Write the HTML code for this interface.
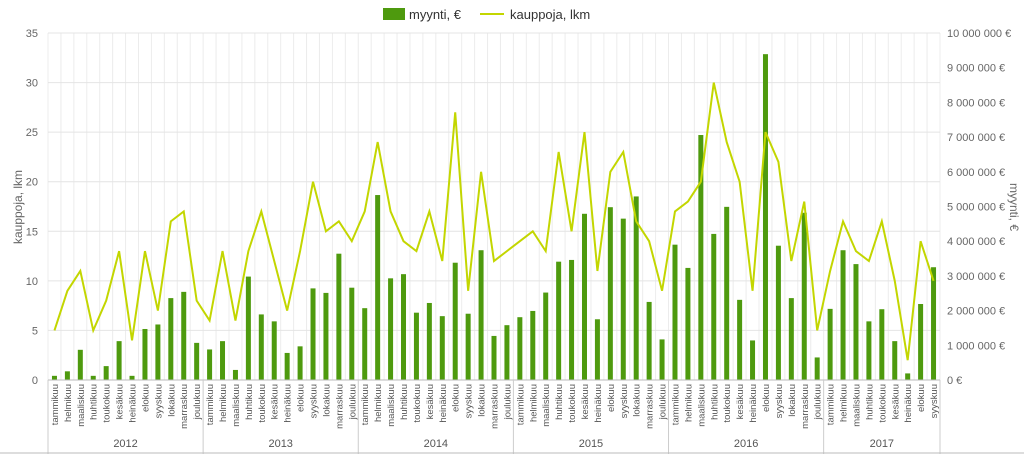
<!DOCTYPE html>
<html><head><meta charset="utf-8"><style>
body{margin:0;background:#fff;font-family:"Liberation Sans",sans-serif}
svg text{font-family:"Liberation Sans",sans-serif}
</style></head><body>
<svg id="chart" width="1024" height="454" xmlns="http://www.w3.org/2000/svg"></svg>
<script>
const years = ["2012","2013","2014","2015","2016","2017"];
const monthNames = ["tammikuu","helmikuu","maaliskuu","huhtikuu","toukokuu","kesäkuu","heinäkuu","elokuu","syyskuu","lokakuu","marraskuu","joulukuu"];
const monthsPerYear = [12,12,12,12,12,9];
const salesM = [0.12,0.25,0.87,0.12,0.4,1.12,0.12,1.47,1.6,2.36,2.54,1.07,
 0.88,1.12,0.29,2.98,1.89,1.69,0.78,0.97,2.64,2.51,3.64,2.66,
 2.07,5.33,2.93,3.05,1.94,2.22,1.84,3.38,1.91,3.74,1.27,1.58,
 1.81,1.99,2.52,3.41,3.46,4.79,1.75,4.98,4.65,5.29,2.25,1.17,
 3.9,3.23,7.06,4.21,4.99,2.31,1.14,9.39,3.87,2.36,4.82,0.65,
 2.05,3.74,3.34,1.69,2.04,1.12,0.19,2.19,3.25];
const deals = [5,9,11,5,8,13,4,13,7,16,17,8,
 6,13,6,13,17,12,7,13,20,15,16,14,
 17,24,17,14,13,17,12,27,9,21,12,13,
 14,15,13,23,15,25,11,21,23,16,14,9,
 17,18,20,30,24,20,9,25,22,12,18,5,
 11,16,13,12,16,10,2,14,10];
const leftTicks = [0,5,10,15,20,25,30,35];
const rightTicks = ["0 €","1 000 000 €","2 000 000 €","3 000 000 €","4 000 000 €","5 000 000 €","6 000 000 €","7 000 000 €","8 000 000 €","9 000 000 €","10 000 000 €"];

const NS="http://www.w3.org/2000/svg", svg=document.getElementById('chart');
const X0=48,X1=940,Y0=380,Y1=33;
const n=deals.length, cw=(X1-X0)/n;
const xc=i=>X0+cw*(i+0.5);
const yL=v=>Y0-(Y0-Y1)*v/35;
const yR=v=>Y0-(Y0-Y1)*v/10;
function el(t,a,txt){const e=document.createElementNS(NS,t);for(const k in a)e.setAttribute(k,a[k]);if(txt!=null)e.textContent=txt;svg.appendChild(e);return e;}

for(let i=0;i<=n;i++){const g=el('line',{x1:X0+cw*i,x2:X0+cw*i,y1:Y1,y2:Y0,stroke:'#ececec','stroke-width':1});
}
leftTicks.forEach(v=>{const g=el('line',{x1:X0,x2:X1,y1:yL(v),y2:yL(v),stroke:'#e4e4e4'});

const t=el('text',{x:38,y:yL(v)+4,'text-anchor':'end','font-size':11,fill:'#666'},v);
});
rightTicks.forEach((s,i)=>{const t=el('text',{x:947,y:yR(i)+4,'font-size':11,fill:'#666'},s);
});

salesM.forEach((v,i)=>{const b=el('rect',{x:xc(i)-2.5,y:yR(v),width:5,height:Y0-yR(v),fill:'#4e9a0e'});
});
const ln=el('polyline',{points:deals.map((v,i)=>xc(i)+','+yL(v)).join(' '),fill:'none',stroke:'#c3d600','stroke-width':2});


const ax=el('line',{x1:X0,x2:X1,y1:Y0,y2:Y0,stroke:'#bbb'});

let idx=0;
years.forEach((yr,k)=>{
  const start=idx;
  for(let m=0;m<monthsPerYear[k];m++){
    const x=xc(idx);
    const t=el('text',{x:0,y:0,transform:`translate(${x+3.5},384) rotate(-90)`,'text-anchor':'end','font-size':9.5,fill:'#555'},monthNames[m]);
    
    idx++;
  }
  const sep=el('line',{x1:X0+cw*start,x2:X0+cw*start,y1:Y0,y2:454,stroke:'#ccc'});
  
  const yt=el('text',{x:X0+cw*(start+idx)/2,y:447,'text-anchor':'middle','font-size':11,fill:'#555'},yr);
  
});
const sepEnd=el('line',{x1:X1,x2:X1,y1:Y0,y2:454,stroke:'#ccc'});

const bb=el('line',{x1:0,x2:1024,y1:453,y2:453,stroke:'#bbb'});


const lt=el('text',{transform:'translate(22,207) rotate(-90)','text-anchor':'middle','font-size':12,fill:'#666'},'kauppoja, lkm');

const rt=el('text',{transform:'translate(1010,207) rotate(90)','text-anchor':'middle','font-size':12,fill:'#666'},'myynti, €');


const lb=el('rect',{x:383,y:8,width:22,height:12,fill:'#4e9a0e'});

const l1=el('text',{x:409,y:19,'font-size':13,fill:'#333'},'myynti, €');

const ll=el('line',{x1:480,x2:504,y1:14,y2:14,stroke:'#c3d600','stroke-width':2});

const l2=el('text',{x:510,y:19,'font-size':13,fill:'#333'},'kauppoja, lkm');

</script>
</body></html>
